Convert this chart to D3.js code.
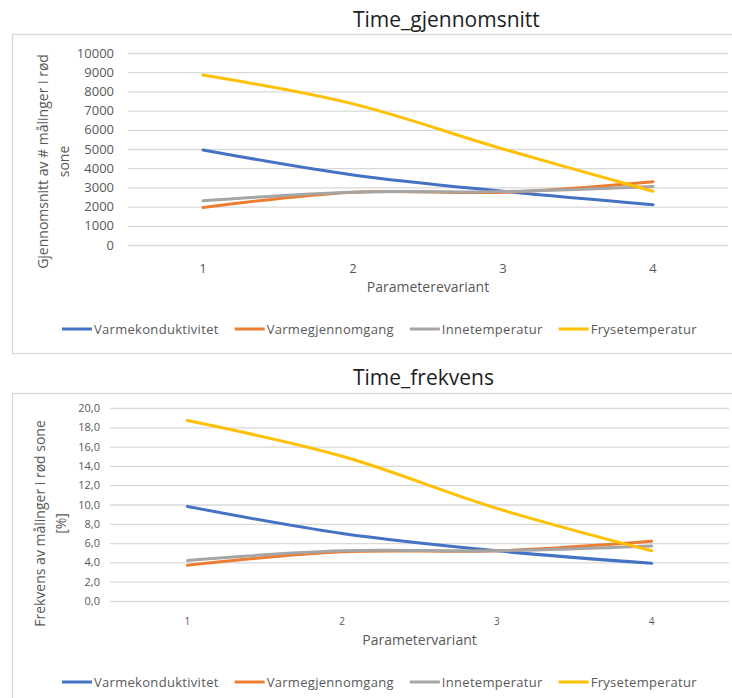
<!DOCTYPE html>
<html>
<head>
<meta charset="utf-8">
<script src="https://cdn.jsdelivr.net/npm/d3@7/dist/d3.min.js"></script>
<style>
  html, body { margin: 0; padding: 0; background: #ffffff; }
  svg { display: block; }
  text { font-family: "Open Sans", "Noto Sans", sans-serif; }
</style>
</head>
<body>
<svg id="chart" width="732" height="698"></svg>
<script>
// Parameter variants on the x axis
const categories = ["1", "2", "3", "4"];
const seriesNames = ["Varmekonduktivitet", "Varmegjennomgang", "Innetemperatur", "Frysetemperatur"];
const seriesColors = ["#4472C4", "#ED7D31", "#A5A5A5", "#FFC000"];

// Time_gjennomsnitt: mean number of measurements in the red zone
const avgVarmekonduktivitet = [4950, 3650, 2800, 2100];
const avgVarmegjennomgang   = [1950, 2750, 2750, 3300];
const avgInnetemperatur     = [2300, 2750, 2780, 3050];
const avgFrysetemperatur    = [8850, 7350, 5000, 2800];
const avgTicks = [0, 1000, 2000, 3000, 4000, 5000, 6000, 7000, 8000, 9000, 10000];

// Time_frekvens: share of measurements in the red zone [%]
const freqVarmekonduktivitet = [9.8, 7.0, 5.2, 3.9];
const freqVarmegjennomgang   = [3.7, 5.1, 5.2, 6.2];
const freqInnetemperatur     = [4.2, 5.2, 5.2, 5.7];
const freqFrysetemperatur    = [18.7, 15.0, 9.6, 5.2];
const freqTicks = [0, 2, 4, 6, 8, 10, 12, 14, 16, 18, 20];

const svg = d3.select("#chart");
const GRID = "#D9D9D9";
const TEXT = "#595959";

function drawChart(opt) {
  const g = svg.append("g");

  // chart frame (extends past the right edge of the page)
  g.append("rect")
    .attr("x", 12.5).attr("y", opt.frameTop + 0.5)
    .attr("width", 900).attr("height", opt.frameBottom - opt.frameTop)
    .attr("fill", "none").attr("stroke", GRID).attr("stroke-width", 1.3);

  g.append("text")
    .attr("x", 353).attr("y", opt.titleY)
    .attr("font-size", 21).attr("fill", "#1e1e1e")
    .text(opt.title);

  const x = d3.scaleBand().domain(categories).range([opt.left, opt.right]);
  const y = d3.scaleLinear().domain([0, opt.max]).range([opt.bottom, opt.top]);

  // horizontal gridlines + value labels
  const yAxis = d3.axisLeft(y).tickValues(opt.ticks).tickSize(-(opt.right - opt.left))
    .tickPadding(opt.tickPad).tickFormat(opt.fmt);
  const ya = g.append("g").attr("transform", `translate(${opt.left},0)`).call(yAxis);
  ya.select(".domain").remove();
  ya.selectAll(".tick line").attr("stroke", GRID).attr("stroke-width", 1.3);
  ya.selectAll(".tick text").attr("fill", TEXT).attr("font-size", opt.yFont)
    .attr("font-family", "'Open Sans', sans-serif");

  // category labels
  const xAxis = d3.axisBottom(x).tickSize(0).tickPadding(opt.xPad);
  const xa = g.append("g").attr("transform", `translate(0,${opt.bottom})`).call(xAxis);
  xa.select(".domain").remove();
  xa.selectAll(".tick text").attr("fill", TEXT).attr("font-size", opt.xFont)
    .attr("font-family", "'Open Sans', sans-serif");

  // axis titles
  g.append("text")
    .attr("x", (opt.left + opt.right) / 2).attr("y", opt.xTitleY)
    .attr("text-anchor", "middle").attr("font-size", 14).attr("fill", TEXT)
    .text(opt.xTitle);

  const yt = g.append("text")
    .attr("transform", `translate(${opt.yTitleX},${opt.yTitleCY}) rotate(-90)`)
    .attr("text-anchor", "middle").attr("font-size", 14).attr("fill", TEXT);
  opt.yTitle.forEach((line, i) => {
    yt.append("tspan").attr("x", 0).attr("dy", i === 0 ? "0.35em" : 21).text(line);
  });
  yt.attr("transform", `translate(${opt.yTitleX},${opt.yTitleCY - 10.5 * (opt.yTitle.length - 1)}) rotate(-90)`);

  // series lines
  const line = d3.line()
    .x((d, i) => x(categories[i]) + x.bandwidth() / 2)
    .y(d => y(d))
    .curve(d3.curveCatmullRom.alpha(0.5));
  opt.series.forEach((vals, i) => {
    g.append("path").datum(vals)
      .attr("d", line)
      .attr("fill", "none").attr("stroke", seriesColors[i])
      .attr("stroke-width", 3).attr("stroke-linecap", "round");
  });

  // legend
  const leg = g.append("g").attr("transform", `translate(0,${opt.legendY})`);
  let cx = 62;
  seriesNames.forEach((name, i) => {
    const it = leg.append("g").attr("transform", `translate(${cx},0)`);
    it.append("line").attr("x1", 0).attr("x2", 30).attr("y1", 0).attr("y2", 0)
      .attr("stroke", seriesColors[i]).attr("stroke-width", 3);
    const t = it.append("text").attr("x", 32).attr("y", 0).attr("dy", "0.35em")
      .attr("font-size", 13).attr("fill", TEXT).attr("letter-spacing", 0.3).text(name);
    cx += 32 + t.node().getComputedTextLength() + 16;
  });
}

drawChart({
  title: "Time_gjennomsnitt", titleY: 27,
  frameTop: 34, frameBottom: 353,
  left: 128, right: 728, top: 53, bottom: 245,
  max: 10000, ticks: avgTicks, fmt: d3.format("d"),
  tickPad: 14, yFont: 13, xFont: 13, xPad: 19,
  xTitle: "Parameterevariant", xTitleY: 292,
  yTitle: ["Gjennomsnitt av # målinger i rød", "sone"], yTitleX: 43, yTitleCY: 172,
  series: [avgVarmekonduktivitet, avgVarmegjennomgang, avgInnetemperatur, avgFrysetemperatur],
  legendY: 329
});

drawChart({
  title: "Time_frekvens", titleY: 385,
  frameTop: 393, frameBottom: 760,
  left: 110, right: 729, top: 408, bottom: 601,
  max: 20, ticks: freqTicks, fmt: d => d3.format(".1f")(d).replace(".", ","),
  tickPad: 10, yFont: 11, xFont: 10, xPad: 17,
  xTitle: "Parametervariant", xTitleY: 645,
  yTitle: ["Frekvens av målinger i rød sone", "[%]"], yTitleX: 40, yTitleCY: 534,
  series: [freqVarmekonduktivitet, freqVarmegjennomgang, freqInnetemperatur, freqFrysetemperatur],
  legendY: 682
});
</script>
</body>
</html>
